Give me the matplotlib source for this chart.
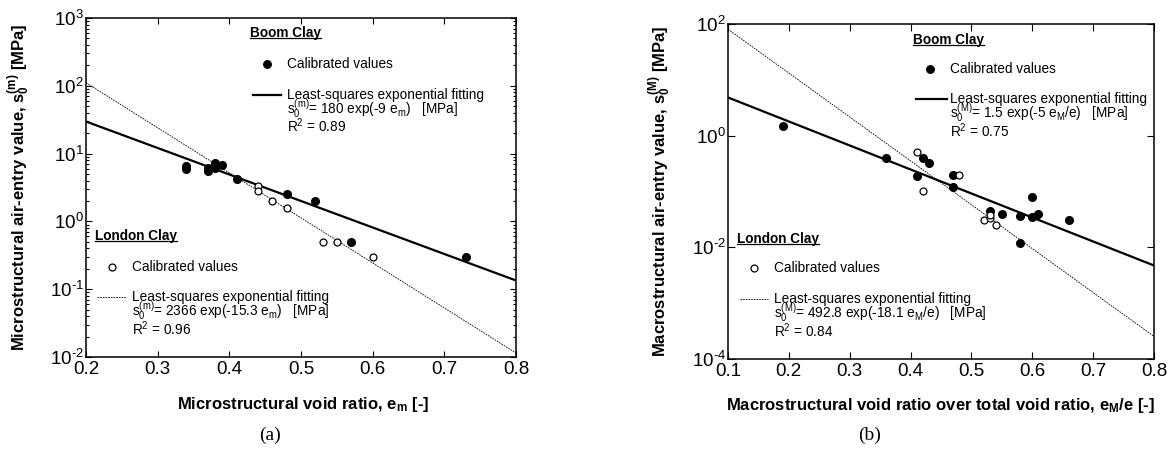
import matplotlib
matplotlib.use('Agg')
import matplotlib.pyplot as plt
import numpy as np
from matplotlib.ticker import LogLocator, FixedLocator, FuncFormatter, NullLocator, NullFormatter

plt.rcParams['font.family'] = ['Liberation Sans', 'DejaVu Sans']
plt.rcParams['mathtext.fontset'] = 'custom'
plt.rcParams['mathtext.rm'] = 'Liberation Sans'
plt.rcParams['mathtext.it'] = 'Liberation Sans:italic'
plt.rcParams['mathtext.bf'] = 'Liberation Sans:bold'
plt.rcParams['axes.unicode_minus'] = False

# (a) microstructural air-entry value vs microstructural void ratio
boom_em = [0.34, 0.34, 0.37, 0.37, 0.38, 0.38, 0.39, 0.41, 0.48, 0.52, 0.57, 0.73]
boom_s0m = [6.5, 6.0, 6.2, 5.5, 7.3, 6.2, 6.9, 4.2, 2.5, 2.0, 0.5, 0.30]
london_em = [0.44, 0.44, 0.46, 0.48, 0.53, 0.55, 0.60]
london_s0m = [3.3, 2.8, 2.0, 1.6, 0.5, 0.5, 0.30]

# (b) macrostructural air-entry value vs eM/e
boom_eM = [0.19, 0.36, 0.41, 0.42, 0.43, 0.47, 0.47, 0.53, 0.55, 0.58, 0.58, 0.60, 0.60, 0.61, 0.66]
boom_s0M = [1.5, 0.40, 0.19, 0.40, 0.32, 0.20, 0.12, 0.045, 0.040, 0.037, 0.012, 0.080, 0.035, 0.040, 0.031]
london_eM = [0.41, 0.42, 0.48, 0.52, 0.53, 0.53, 0.54]
london_s0M = [0.50, 0.10, 0.20, 0.031, 0.033, 0.038, 0.025]

# exponential fits: s0 = A exp(B x)
boom_fit_a = [180.0, -9.0]
london_fit_a = [2366.0, -15.3]
boom_fit_b = [13.0, -9.9]
london_fit_b = [492.8, -18.1]

fs_txt = 9.8
fs_lab = 12
fig = plt.figure(figsize=(11.74, 4.51), dpi=100)
ax1 = fig.add_axes([0.0733, 0.2084, 0.3663, 0.7516])
ax2 = fig.add_axes([0.6201, 0.2040, 0.3629, 0.7428])

# powers of ten with a plain hyphen in the exponent
pow10 = FuncFormatter(lambda v, p: r'$10^{\text{%d}}$' % int(round(np.log10(v))))


def style_axes(ax):
    ax.set_yscale('log')
    for sp in ax.spines.values():
        sp.set_linewidth(1.1)
    ax.tick_params(which='both', direction='in', top=True, right=True,
                   labelsize=13.5, pad=1.5, width=0.8)
    ax.tick_params(axis='x', pad=3)
    ax.tick_params(which='major', length=4)
    ax.tick_params(which='minor', length=2)
    ax.xaxis.set_minor_locator(NullLocator())


def underlined(ax, x, y, s):
    t = ax.text(x, y, s, transform=ax.transAxes, fontsize=fs_txt,
                fontweight='bold', va='center', ha='left')
    fig.canvas.draw()
    bb = t.get_window_extent().transformed(ax.transAxes.inverted())
    ax.plot([bb.x0, bb.x1], [bb.y0 + 0.006, bb.y0 + 0.006], transform=ax.transAxes,
            color='k', lw=0.9, clip_on=False)


def key_block(ax, title_xy, mk_xy, line_x, rows_x, line_y, title, fill, ls, lw, eq, r2):
    underlined(ax, title_xy[0], title_xy[1], title)
    ax.plot([mk_xy[0]], [mk_xy[1]], 'o', transform=ax.transAxes, ms=5.5 if fill else 5,
            mfc='k' if fill else 'white', mec='k', mew=0.9, clip_on=False)
    ax.text(rows_x, mk_xy[1], 'Calibrated values', transform=ax.transAxes,
            fontsize=fs_txt, va='center')
    ax.plot(line_x, [line_y, line_y], transform=ax.transAxes, color='k',
            ls=ls, lw=lw, clip_on=False)
    # fit description: three lines in one text block
    ax.text(rows_x, line_y + 0.020, 'Least-squares exponential fitting\n' + eq + '\n' + r2,
            transform=ax.transAxes, fontsize=fs_txt, va='top', linespacing=0.74)


dash = (0, (2.0, 1.2))

# ---- panel (a)
style_axes(ax1)
xa = np.linspace(0.2, 0.8, 200)
ax1.plot(xa, boom_fit_a[0] * np.exp(boom_fit_a[1] * xa), color='k', lw=1.6)
ax1.plot(xa, london_fit_a[0] * np.exp(london_fit_a[1] * xa), color='k', lw=0.6, ls=dash)
ax1.plot(boom_em, boom_s0m, 'o', ms=5.5, mfc='k', mec='k', ls='none')
ax1.plot(london_em, london_s0m, 'o', ms=5, mfc='white', mec='k', mew=0.9, ls='none')
ax1.set_xlim(0.2, 0.8)
ax1.set_ylim(1e-2, 1e3)
ax1.set_xticks([0.2, 0.3, 0.4, 0.5, 0.6, 0.7, 0.8])
ax1.set_xticklabels(['0.2', '0.3', '0.4', '0.5', '0.6', '0.7', '0.8'])
ax1.yaxis.set_major_locator(LogLocator(base=10, numticks=10))
ax1.yaxis.set_minor_locator(LogLocator(base=10, subs=np.arange(2, 10), numticks=20))
ax1.yaxis.set_minor_formatter(NullFormatter())
ax1.yaxis.set_major_formatter(pow10)
ax1.set_xlabel(r'Microstructural void ratio, $\mathregular{e_m}$ [-]', fontsize=fs_lab, fontweight='bold')
ax1.set_ylabel(r'Microstructural air-entry value, $\mathregular{s_0^{(m)}}$ [MPa]', fontsize=fs_lab, fontweight='bold')
ax1.xaxis.set_label_coords(0.505, -0.112)
ax1.yaxis.set_label_coords(-0.126, 0.50)

key_block(ax1, (0.381, 0.956), (0.421, 0.864), [0.388, 0.453], 0.467, 0.773,
          'Boom Clay', True, '-', 1.6,
          r'$\mathregular{s_0^{(m)}}$= 180 exp(-9 $\mathregular{e_m}$)   [MPa]', r'R$^2$ = 0.89')
key_block(ax1, (0.021, 0.357), (0.060, 0.265), [0.026, 0.093], 0.107, 0.177,
          'London Clay', False, dash, 0.6,
          r'$\mathregular{s_0^{(m)}}$= 2366 exp(-15.3 $\mathregular{e_m}$)   [MPa]', r'R$^2$ = 0.96')

# ---- panel (b)
style_axes(ax2)
xb = np.linspace(0.1, 0.8, 200)
ax2.plot(xb, boom_fit_b[0] * np.exp(boom_fit_b[1] * xb), color='k', lw=1.6)
ax2.plot(xb, london_fit_b[0] * np.exp(london_fit_b[1] * xb), color='k', lw=0.6, ls=dash)
ax2.plot(boom_eM, boom_s0M, 'o', ms=5.5, mfc='k', mec='k', ls='none')
ax2.plot(london_eM, london_s0M, 'o', ms=5, mfc='white', mec='k', mew=0.9, ls='none')
ax2.set_xlim(0.1, 0.8)
ax2.set_ylim(1e-4, 1e2)
ax2.set_xticks([0.1, 0.2, 0.3, 0.4, 0.5, 0.6, 0.7, 0.8])
ax2.set_xticklabels(['0.1', '0.2', '0.3', '0.4', '0.5', '0.6', '0.7', '0.8'])
ax2.yaxis.set_major_locator(FixedLocator([1e-4, 1e-2, 1e0, 1e2]))
ax2.yaxis.set_minor_locator(NullLocator())
ax2.yaxis.set_major_formatter(pow10)
ax2.tick_params(which='major', length=5)
ax2.set_xlabel(r'Macrostructural void ratio over total void ratio, $\mathregular{e_M}$/e [-]', fontsize=fs_lab, fontweight='bold')
ax2.set_ylabel(r'Macrostructural air-entry value, $\mathregular{s_0^{(M)}}$ [MPa]', fontsize=fs_lab, fontweight='bold')
ax2.xaxis.set_label_coords(0.498, -0.110)
ax2.yaxis.set_label_coords(-0.129, 0.50)

key_block(ax2, (0.434, 0.952), (0.474, 0.866), [0.441, 0.514], 0.521, 0.776,
          'Boom Clay', True, '-', 1.6,
          r'$\mathregular{s_0^{(M)}}$= 1.5 exp(-5 $\mathregular{e_M}$/e)   [MPa]', r'R$^2$ = 0.75')
key_block(ax2, (0.021, 0.358), (0.061, 0.272), [0.028, 0.094], 0.108, 0.179,
          'London Clay', False, dash, 0.6,
          r'$\mathregular{s_0^{(M)}}$= 492.8 exp(-18.1 $\mathregular{e_M}$/e)   [MPa]', r'R$^2$ = 0.84')

fig.text(270 / 1174, 1 - 435 / 451, '(a)', family='Liberation Serif', fontsize=14, ha='center', va='center')
fig.text(870 / 1174, 1 - 435 / 451, '(b)', family='Liberation Serif', fontsize=14, ha='center', va='center')

fig.savefig('out.png', dpi=100)
